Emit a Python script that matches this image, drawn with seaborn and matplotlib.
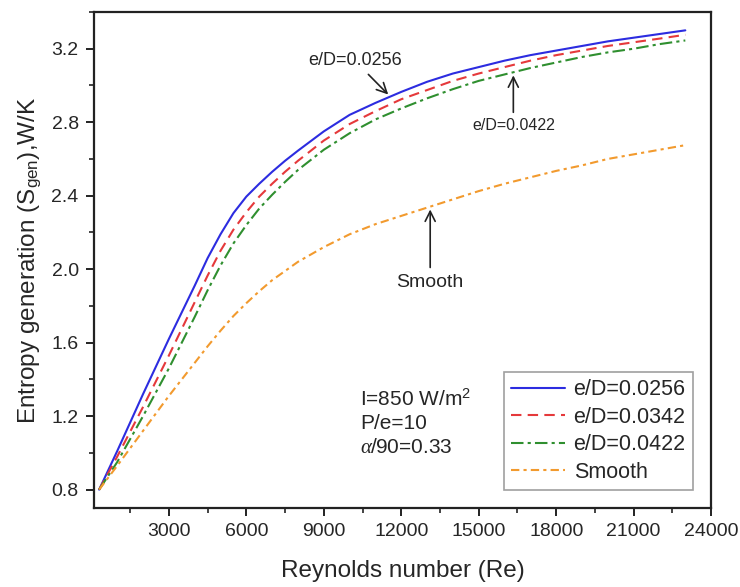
import seaborn as sns
import matplotlib.pyplot as plt
from matplotlib.ticker import MultipleLocator
import pandas as pd

sns.set_style('ticks')
plt.rcParams['font.family'] = ['Liberation Sans', 'DejaVu Sans']
plt.rcParams['mathtext.fontset'] = 'custom'
plt.rcParams['mathtext.rm'] = 'Liberation Sans'
plt.rcParams['mathtext.it'] = 'Liberation Serif:italic'
plt.rcParams['mathtext.sf'] = 'Liberation Sans'

re = [300, 1000, 2000, 3000, 3500, 4000, 4500, 5000, 5500, 6000, 6500, 7000, 7500,
      8000, 9000, 10000, 11000, 12000, 13000, 14000, 15000, 16000, 17000, 18000,
      19000, 20000, 21000, 22000, 23000]
ed_0256 = [0.80, 1.01, 1.32, 1.62, 1.765, 1.91, 2.06, 2.19, 2.305, 2.395, 2.465, 2.53, 2.59,
           2.645, 2.75, 2.84, 2.905, 2.965, 3.02, 3.065, 3.10, 3.135, 3.165, 3.19,
           3.215, 3.24, 3.26, 3.28, 3.30]
ed_0342 = [0.80, 0.98, 1.25, 1.53, 1.675, 1.82, 1.965, 2.10, 2.215, 2.31, 2.395, 2.465, 2.53,
           2.59, 2.70, 2.79, 2.86, 2.925, 2.975, 3.025, 3.065, 3.10, 3.135, 3.165,
           3.19, 3.215, 3.235, 3.255, 3.276]
ed_0422 = [0.80, 0.95, 1.20, 1.46, 1.60, 1.74, 1.885, 2.02, 2.14, 2.24, 2.33, 2.405, 2.475,
           2.54, 2.65, 2.74, 2.815, 2.875, 2.93, 2.98, 3.025, 3.06, 3.095, 3.125,
           3.155, 3.18, 3.20, 3.225, 3.245]
smooth = [0.80, 0.93, 1.12, 1.31, 1.40, 1.49, 1.58, 1.665, 1.745, 1.815, 1.88, 1.94, 1.99,
          2.04, 2.12, 2.19, 2.245, 2.29, 2.335, 2.38, 2.425, 2.465, 2.50, 2.535,
          2.565, 2.60, 2.625, 2.65, 2.675]

df = pd.DataFrame({'Re': re, 'e/D=0.0256': ed_0256, 'e/D=0.0342': ed_0342,
                   'e/D=0.0422': ed_0422, 'Smooth': smooth})

styles = {
    'e/D=0.0256': ('#2c2ce0', '-'),
    'e/D=0.0342': ('#e5393b', (0, (5, 3))),
    'e/D=0.0422': ('#2f8f2f', (0, (6, 2, 1.5, 2))),
    'Smooth': ('#f29a2e', (0, (4, 2, 1.5, 2))),
}

fig = plt.figure(figsize=(7.4, 5.87), dpi=100)
ax = fig.add_axes([0.127, 0.1346, 0.834, 0.845])

for name, (c, ls) in styles.items():
    sns.lineplot(data=df, x='Re', y=name, ax=ax, color=c, linestyle=ls,
                 linewidth=1.5, label=name)

ax.set_xlim(100, 24000)
ax.set_ylim(0.7, 3.4)
ax.xaxis.set_minor_locator(MultipleLocator(1500))
ax.yaxis.set_minor_locator(MultipleLocator(0.2))
ax.set_yticks([0.8, 1.2, 1.6, 2.0, 2.4, 2.8, 3.2])
ax.set_yticklabels(['0.8', '1.2', '1.6', '2.0', '2.4', '2.8', '3.2'])
ax.set_xticks([3000, 6000, 9000, 12000, 15000, 18000, 21000, 24000])

ax.tick_params(which='major', length=6, width=1.4, labelsize=14, color='#222222', pad=5)
ax.tick_params(which='minor', length=3.5, width=1.2, color='#222222')
for s in ax.spines.values():
    s.set_linewidth(1.6)
    s.set_color('#222222')

ax.set_xlabel('Reynolds number (Re)', fontsize=17.5, labelpad=14)
ax.set_ylabel('Entropy generation (S$_{\\mathrm{gen}}$),W/K', fontsize=17.5, labelpad=6)

arrow = dict(arrowstyle='->', color='#222222', lw=1.2, mutation_scale=18)
ax.annotate('e/D=0.0256', xy=(11570, 2.94), xytext=(10200, 3.135),
            fontsize=13, ha='center', va='center', arrowprops=arrow)
ax.annotate('e/D=0.0422', xy=(16340, 3.07), xytext=(16340, 2.78),
            fontsize=11.5, ha='center', va='center', arrowprops=arrow)
ax.annotate('Smooth', xy=(13120, 2.34), xytext=(13120, 1.93),
            fontsize=14, ha='center', va='center', arrowprops=arrow)

ax.text(10400, 1.165, 'I=850 W/m$^2$\nP/e=10\n$\\alpha$/90=0.33',
        fontsize=15, ha='left', va='center', linespacing=1.3)

leg = ax.legend(loc='lower right', bbox_to_anchor=(0.971, 0.036), borderaxespad=0,
                fontsize=15.5, frameon=True, fancybox=False, handlelength=2.5,
                borderpad=0.35, labelspacing=0.3, handletextpad=0.4)
leg.get_frame().set_edgecolor('#888888')
leg.get_frame().set_linewidth(1.2)

fig.savefig('out.png', dpi=100)
